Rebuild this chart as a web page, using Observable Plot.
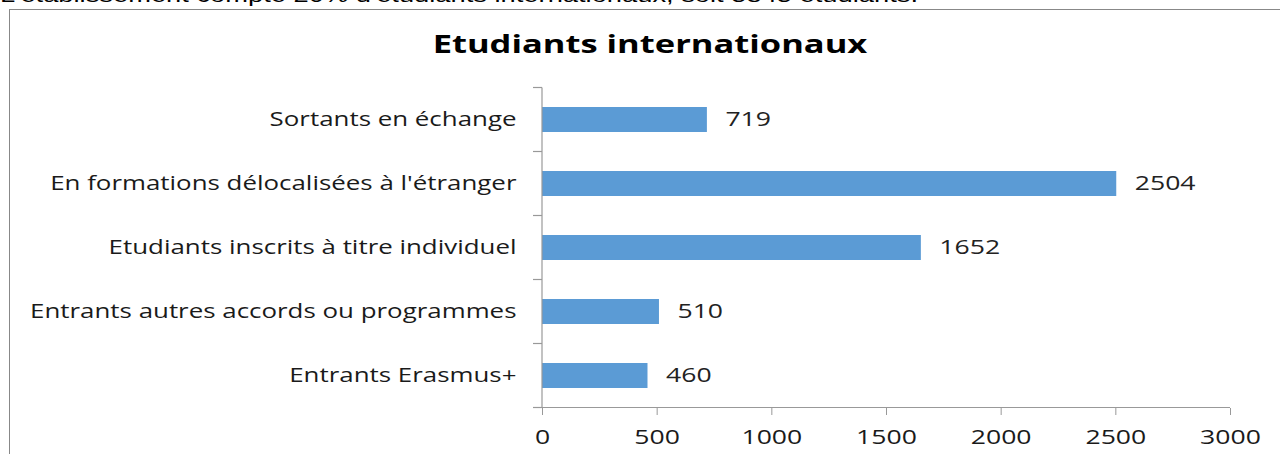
<!DOCTYPE html>
<html>
<head>
<meta charset="utf-8">
<script src="https://cdn.jsdelivr.net/npm/d3@7"></script>
<script src="https://cdn.jsdelivr.net/npm/@observablehq/plot@0.6"></script>
<style>
  html, body { margin: 0; padding: 0; background: #fff; }
  #wrap { position: relative; width: 1280px; height: 454px; overflow: hidden; background: #fff; }
  #intro { position: absolute; left: 0; top: -17px; font-family: "Liberation Sans", Arial, sans-serif; font-size: 21px; color: #000; white-space: nowrap; transform: scaleX(1.3); transform-origin: left center; }
  #frame { position: absolute; left: 9px; top: 9px; width: 1400px; height: 600px; border: 1px solid #888; box-sizing: border-box; }
  #title { position: absolute; left: 0; width: 1300px; top: 26px; text-align: center; font-family: "Open Sans", sans-serif; font-weight: bold; font-size: 25px; color: #000; transform: scaleX(1.38); transform-origin: 650px center; }
  #chart { position: absolute; left: 0; top: 0; }
</style>
</head>
<body>
<div id="wrap">
  <div id="intro">L'établissement compte 20% d'étudiants internationaux, soit 5845 étudiants.</div>
  <div id="frame"></div>
  <div id="title">Etudiants internationaux</div>
  <div id="chart"></div>
</div>
<script>
const categories = [
  "Sortants en échange",
  "En formations délocalisées à l'étranger",
  "Etudiants inscrits à titre individuel",
  "Entrants autres accords ou programmes",
  "Entrants Erasmus+"
];
const values = [719, 2504, 1652, 510, 460];
const xTicks = [0, 500, 1000, 1500, 2000, 2500, 3000];

const data = categories.map((c, i) => ({category: c, value: values[i]}));

const font = "'Open Sans', sans-serif";
const chart = Plot.plot({
  width: 1280,
  height: 454,
  marginLeft: 542,
  marginRight: 50,
  marginTop: 87,
  marginBottom: 46,
  style: {fontFamily: font, fontSize: "20px", color: "#222", background: "transparent", overflow: "visible"},
  x: {domain: [0, 3000], ticks: xTicks, label: null},
  y: {domain: categories, paddingInner: 0.61, paddingOuter: 0.305, label: null},
  marks: [
    Plot.barX(data, {x: "value", y: "category", fill: "#5B9BD5"}),
    Plot.text(data, {x: "value", y: "category", text: d => String(d.value), textAnchor: "start", dx: 18, fill: "#222", fontSize: 20}),
    Plot.axisY({tickSize: 0, tickPadding: 26, fontSize: 20, fill: "#1a1a1a", label: null, ariaLabel: "y-axis"}),
    Plot.axisX({ticks: xTicks, tickSize: 7, stroke: "#999", tickPadding: 14, fontSize: 20, fill: "#1a1a1a", label: null, tickFormat: d => String(d)})
  ]
});

document.getElementById("chart").appendChild(chart);

// axis lines and boundary ticks from the library's scales
const xs = chart.scale("x"), ys = chart.scale("y");
const svg = d3.select(chart);
const step = ys.step ?? (ys.bandwidth / (1 - 0.61));
const x0 = xs.apply(0), x1 = xs.apply(3000);
const centers = categories.map(c => ys.apply(c) + ys.bandwidth / 2);
const bounds = centers.map(c => c - step / 2).concat([centers[centers.length - 1] + step / 2]);
const g = svg.append("g").attr("stroke", "#999").attr("stroke-width", 1.2);
g.append("line").attr("x1", x0).attr("x2", x0).attr("y1", bounds[0]).attr("y2", bounds[bounds.length - 1]);
g.append("line").attr("x1", x0 - 9).attr("x2", x1).attr("y1", bounds[bounds.length - 1]).attr("y2", bounds[bounds.length - 1]);
bounds.forEach(b => g.append("line").attr("x1", x0 - 9).attr("x2", x0).attr("y1", b).attr("y2", b));

// widen glyphs horizontally (reference is horizontally stretched)
chart.querySelectorAll("text").forEach(t => {
  const bb = t.getBBox();
  const anchor = getComputedStyle(t).textAnchor;
  const sx = anchor === "end" ? 1.295 : 1.33;
  const ax = anchor === "end" ? bb.x + bb.width : anchor === "middle" ? bb.x + bb.width / 2 : bb.x;
  const prev = t.getAttribute("transform") || "";
  t.setAttribute("transform", `${prev} translate(${ax},0) scale(${sx},1) translate(${-ax},0)`);
});
</script>
</body>
</html>
